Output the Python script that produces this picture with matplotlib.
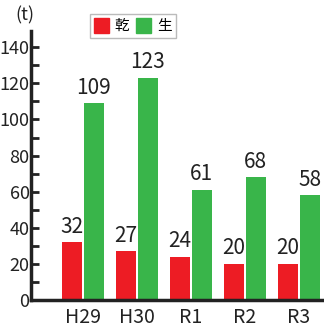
import matplotlib.pyplot as plt
import numpy as np
from matplotlib.patches import Patch

years = ['H29', 'H30', 'R1', 'R2', 'R3']
dry = [32, 27, 24, 20, 20]
raw = [109, 123, 61, 68, 58]
series_names = ['乾', '生']

plt.rcParams['font.family'] = ['Liberation Sans Narrow', 'Noto Sans CJK JP', 'DejaVu Sans']

red = '#ED1C24'
green = '#39B54A'

fig = plt.figure(figsize=(3.24, 3.31), dpi=100)
ax = fig.add_axes([31/324, 31/331, 1 - 31/324, 269/331])

x = np.arange(len(years))
w = 0.37
off = 0.205
b1 = ax.bar(x - off, dry, w, color=red)
b2 = ax.bar(x + off, raw, w, color=green)

for bars, vals in ((b1, dry), (b2, raw)):
    for r, v in zip(bars, vals):
        ax.text(r.get_x() + r.get_width()/2, v + 2.5, str(v), ha='center', va='bottom',
                fontsize=15, color='#222222')

ax.set_xlim(-0.96, 4.47)
ax.set_ylim(0, 149)
ax.set_yticks(range(0, 141, 20))
ax.set_yticks(range(0, 141, 10), minor=True)
ax.set_xticks(x)
ax.set_xticklabels(years)
ax.tick_params(axis='y', which='both', direction='in', length=6, width=2,
               labelsize=13, pad=1, colors='#222222')
ax.tick_params(axis='x', length=0, labelsize=14, pad=5, colors='#222222')
for s in ['top', 'right']:
    ax.spines[s].set_visible(False)
for s in ['left', 'bottom']:
    ax.spines[s].set_linewidth(2.5)
    ax.spines[s].set_color('#222222')

fig.text(15/324, 1 - 15/331, '(t)', fontsize=13, color='#222222', va='center', ha='left')

handles = [Patch(color=red), Patch(color=green)]
ax.legend(handles, series_names, loc='upper left', bbox_to_anchor=(0.2, 1.065),
          ncol=2, fontsize=10.5, handlelength=1.0, handleheight=1.2, handletextpad=0.4,
          columnspacing=0.5, borderpad=0.3, fancybox=False, edgecolor='#bbbbbb',
          framealpha=1, borderaxespad=0)

fig.savefig('out.png', dpi=100)
